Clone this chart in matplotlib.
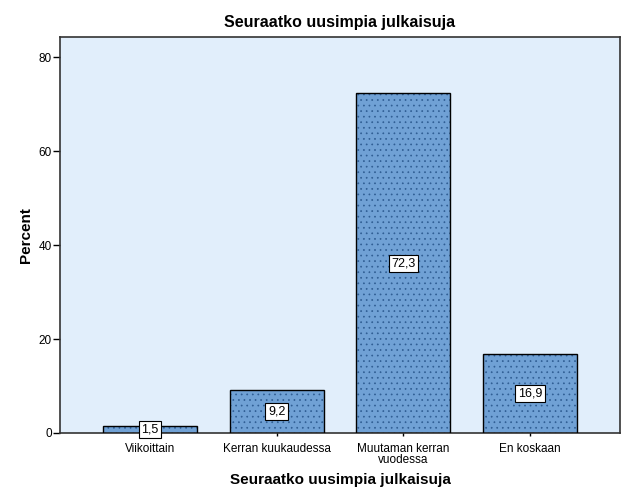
import matplotlib.pyplot as plt
import numpy as np

plt.rcParams['font.family'] = ['Liberation Sans', 'DejaVu Sans']
plt.rcParams['hatch.linewidth'] = 0.5

# Data
categories = ["Viikoittain", "Kerran kuukaudessa", "Muutaman kerran\nvuodessa", "En koskaan"]
percent = [1.5, 9.2, 72.3, 16.9]
value_labels = ["1,5", "9,2", "72,3", "16,9"]

fig = plt.figure(figsize=(6.29, 5.04), dpi=100)
ax = fig.add_axes([0.0954, 0.1409, 0.8903, 0.7857])
ax.set_facecolor('#e1eefb')

x = np.arange(len(categories))
# hatched fill, then black outline on top
ax.bar(x, percent, width=0.74, color='#70a1d5', hatch='...', edgecolor='#2f5d93', linewidth=0, zorder=2)
ax.bar(x, percent, width=0.74, fill=False, edgecolor='black', linewidth=1.0, zorder=3)

for xi, v, lab in zip(x, percent, value_labels):
    ax.text(xi, v / 2, lab, ha='center', va='center', fontsize=9, zorder=4,
            bbox=dict(boxstyle='square,pad=0.2', facecolor='white', edgecolor='black', linewidth=0.8))

ax.set_xlim(-0.71, 3.71)
ax.set_ylim(0, 84.3)
ax.set_yticks([0, 20, 40, 60, 80])
ax.set_xticks(x)
ax.set_xticklabels(categories, fontsize=8.5, linespacing=0.95)
ax.tick_params(axis='y', labelsize=8.5, length=5, width=1, direction='out', pad=1)
ax.tick_params(axis='x', length=5, width=1, direction='inout', pad=4.5)

for s in ax.spines.values():
    s.set_color('#333333')
    s.set_linewidth(1.2)

ax.set_title("Seuraatko uusimpia julkaisuja", fontsize=11.5, fontweight='bold', pad=7)
ax.set_xlabel("Seuraatko uusimpia julkaisuja", fontsize=11, fontweight='bold', labelpad=5)
ax.set_ylabel("Percent", fontsize=11, fontweight='bold', labelpad=4)

plt.savefig("out.png", dpi=100)
